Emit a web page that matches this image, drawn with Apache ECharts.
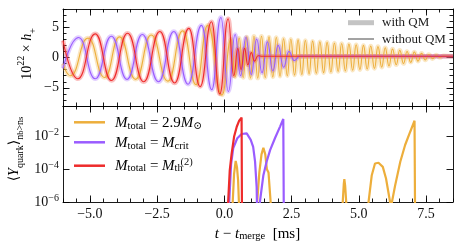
<!DOCTYPE html>
<html><head><meta charset="utf-8">
<script src="https://cdn.jsdelivr.net/npm/echarts@6/dist/echarts.min.js"></script>
<style>html,body{margin:0;padding:0;background:#fff}#c{width:462px;height:250px}</style>
</head><body><div id="c"></div>
<script>
// ---------- tick labels ----------
const xMajor = [-5, -2.5, 0, 2.5, 5, 7.5];
const hMajor = [-5, 0, 5];

// ---------- top panel: 10^22 x h+ (extrema) ----------
const tOrange = [-6.0,-5.72,-5.07,-4.45,-3.9,-3.3,-2.72,-2.1,-1.55,-1.05,-0.62,-0.09,0.25,0.40,0.55,0.70,0.83,0.97,1.10,1.24,1.38,1.52,1.66,1.80,1.93,2.07,2.20,2.34,2.47,2.61,2.74,2.88,3.01,3.15,3.28,3.42,3.55,3.69,3.82,3.96,4.09,4.23,4.36,4.50,4.63,4.77,4.90,5.04,5.17,5.31,5.44,5.58,5.71,5.85,5.98,6.12,6.25,6.39,6.52,6.66,6.79,6.93,7.06,7.20,7.33,7.47,7.60,7.74,7.87,8.01,8.14,8.5];
const hOrange = [-1.0,-3.0,3.2,-3.3,3.4,-3.6,3.7,-3.9,4.4,-4.5,5.3,-6.2,3.0,-3.2,3.2,-3.3,3.4,-3.4,3.5,-3.4,3.5,-3.3,3.4,-3.2,3.3,-3.1,3.1,-3.0,3.0,-2.9,2.9,-2.8,2.8,-2.7,2.7,-2.6,2.6,-2.5,2.5,-2.4,2.4,-2.3,2.3,-2.2,2.2,-2.1,2.1,-2.0,2.0,-1.9,1.9,-1.8,1.8,-1.6,1.6,-1.4,1.4,-1.2,1.2,-1.0,1.0,-0.8,0.9,-0.6,0.7,-0.4,0.5,-0.2,0.4,0.0,0.3,0.2];
const tPurple = [-6.0,-5.42,-4.8,-4.2,-3.62,-3.05,-2.45,-1.88,-1.35,-0.85,-0.47,-0.13,0.15,0.40,0.60,0.80,1.00,1.20,1.40,1.60,1.80,2.00,2.20,2.40,2.60,2.80,8.5];
const hPurple = [-1.8,3.3,-3.5,3.5,-3.6,3.8,-4.0,4.3,-4.4,5.3,-5.3,6.6,-5.6,3.8,-3.0,3.3,-2.8,3.0,-2.5,2.6,-2.2,2.0,-1.6,1.0,-0.5,0.2,0.2];
const tRed = [-6.0,-5.45,-4.8,-4.2,-3.6,-3.0,-2.4,-1.85,-1.32,-0.9,-0.48,-0.17,0.14,0.35,0.50,0.62,0.75,0.87,1.00,1.12,1.25,1.40,8.5];
const hRed = [2.8,-3.5,3.9,-3.8,4.0,-4.0,4.3,-4.2,4.8,-4.8,5.9,-6.0,6.4,-3.0,1.5,-2.0,1.5,-1.2,0.8,-0.6,0.3,0.2,0.2];

// ---------- bottom panel: <Y_quark> (null = gap) ----------
const tYOrange = [0.28,0.31,0.36,0.42,0.47,0.51,0.54,0.56,null,1.18,1.22,1.30,1.38,1.45,1.52,1.58,1.64,1.72,1.75,null,4.38,4.40,4.44,4.46,4.49,4.53,4.55,null,5.30,5.36,5.48,5.60,5.73,5.89,6.01,6.16,6.19,null,6.20,6.23,6.35,6.54,6.72,6.91,7.07,7.09];
const yOrange = [1e-7,1e-6,5e-5,3.2e-4,1.26e-4,2.1e-5,1e-6,1e-7,null,1e-7,1e-6,6.3e-5,7.9e-4,2.0e-3,7.9e-4,1e-4,6.3e-5,1e-6,1e-7,null,1e-7,1e-6,1.26e-5,2.45e-5,1e-5,1e-6,1e-7,null,1e-7,1e-6,4.3e-5,2.2e-4,2.45e-4,1.38e-4,2.7e-5,1e-6,1e-7,null,1e-7,1e-6,1.05e-5,2.8e-4,2.95e-3,1.9e-2,8.9e-2,1e-7];
const tYPurple = [0.15,0.18,0.25,0.33,0.48,0.64,0.83,0.98,1.07,1.14,1.20,1.22,null,1.29,1.32,1.45,1.57,1.70,1.88,2.07,2.19,2.21];
const yPurple = [1e-7,1e-6,2.0e-4,1.9e-3,7.6e-3,1.38e-2,1.5e-2,6e-3,2.3e-3,3e-4,8e-6,1e-7,null,1e-7,1e-6,4.3e-5,2.8e-4,1.45e-3,7.6e-3,3.9e-2,1.15e-1,1e-7];
const tYRed = [0.12,0.14,0.20,0.27,0.36,0.46,0.55,0.64,0.655];
const yRed = [1e-7,1e-6,8.5e-5,8.9e-4,9.3e-3,3.8e-2,8.9e-2,1.38e-1,1e-7];

const C_OR = '#EDAE3B', C_PU = '#9A5CFF', C_RE = '#EE2B2B';
const SERIF = '"Liberation Serif", "DejaVu Serif", serif';

function pairs(t, v) { return t.map((x, i) => (x === null ? ['-', '-'] : [x, v[i]])); }

const chart = echarts.init(document.getElementById('c'), null, {renderer: 'canvas'});
const blk = {color: '#000', width: 0.9};

function xAxes(g, withLabels) {
  const base = {type: 'value', gridIndex: g, min: -6, max: 8.5, splitLine: {show: false}};
  return [
    Object.assign({}, base, {position: 'bottom', interval: 0.5, axisLine: {show: true, onZero: false, lineStyle: blk}, axisTick: {inside: true, length: 3.5, lineStyle: blk}, axisLabel: {show: false}}),
    Object.assign({}, base, {position: 'bottom', axisLine: {show: false, onZero: false}, axisTick: {inside: true, length: 6.5, customValues: xMajor, lineStyle: blk},
      axisLabel: withLabels ? {show: true, customValues: xMajor, margin: 5, color: '#111', fontFamily: SERIF, fontSize: 14,
        formatter: v => (v < 0 ? '\u2212' + (-v).toFixed(1) : v.toFixed(1))} : {show: false}}),
    Object.assign({}, base, {position: 'top', interval: 0.5, axisLine: {show: true, onZero: false, lineStyle: blk}, axisTick: {inside: true, length: 3.5, lineStyle: blk}, axisLabel: {show: false}}),
    Object.assign({}, base, {position: 'top', axisLine: {show: false, onZero: false}, axisTick: {inside: true, length: 6.5, customValues: xMajor, lineStyle: blk}, axisLabel: {show: false}})
  ];
}
const hBase = {type: 'value', gridIndex: 0, min: -8, max: 8, splitLine: {show: false}};
const yAxes = [
  Object.assign({}, hBase, {position: 'left', interval: 1, axisLine: {show: true, onZero: false, lineStyle: blk}, axisTick: {inside: true, length: 3.5, lineStyle: blk}, axisLabel: {show: false}}),
  Object.assign({}, hBase, {position: 'left', axisLine: {show: false, onZero: false}, axisTick: {inside: true, length: 6.5, customValues: hMajor, lineStyle: blk},
    axisLabel: {show: true, customValues: hMajor, margin: 4, color: '#111', fontFamily: SERIF, fontSize: 14, formatter: v => (v < 0 ? '\u2212' + (-v) : '' + v)}}),
  Object.assign({}, hBase, {position: 'right', interval: 1, axisLine: {show: true, onZero: false, lineStyle: blk}, axisTick: {inside: true, length: 3.5, lineStyle: blk}, axisLabel: {show: false}}),
  Object.assign({}, hBase, {position: 'right', axisLine: {show: false, onZero: false}, axisTick: {inside: true, length: 6.5, customValues: hMajor, lineStyle: blk}, axisLabel: {show: false}}),
  {type: 'log', gridIndex: 1, position: 'left', min: 1e-6, max: 0.7, interval: 2, splitLine: {show: false},
    axisLine: {show: true, onZero: false, lineStyle: blk}, axisTick: {inside: true, length: 6.5, lineStyle: blk},
    axisLabel: {show: true, margin: 4, showMaxLabel: false, color: '#111',
      formatter: v => { const e = Math.log10(v); const r = Math.round(e); if (Math.abs(e - r) > 1e-6) return ''; return '{b|10}{s|' + (r < 0 ? '\u2212' : '') + Math.abs(r) + '}'; },
      rich: {b: {fontFamily: SERIF, fontSize: 14, lineHeight: 18, color: '#111'}, s: {fontFamily: SERIF, fontSize: 10, lineHeight: 9, verticalAlign: 'top', color: '#111'}}}},
  {type: 'log', gridIndex: 1, position: 'right', min: 1e-6, max: 0.7, interval: 2, splitLine: {show: false},
    axisLine: {show: true, onZero: false, lineStyle: blk}, axisTick: {inside: true, length: 6.5, lineStyle: blk}, axisLabel: {show: false}}
];

function wave(t, h, color, thick) {
  return {type: 'line', xAxisIndex: 0, yAxisIndex: 0, data: pairs(t, h), showSymbol: false, symbol: 'none', smooth: 0.5, smoothMonotone: 'x',
    lineStyle: thick ? {color: color, width: 4.5, opacity: 0.3} : {color: color, width: 1.1}, silent: true, z: thick ? 2 : 3};
}
function quark(t, y, color) {
  return {type: 'line', xAxisIndex: 4, yAxisIndex: 4, data: pairs(t, y), showSymbol: false, symbol: 'none', connectNulls: false,
    lineStyle: {color: color, width: 2.2}, silent: true};
}

const mathRich = {
  i: {fontFamily: SERIF, fontStyle: 'italic', fontSize: 15, lineHeight: 16, color: '#111'},
  r: {fontFamily: SERIF, fontSize: 15, lineHeight: 16, color: '#111'},
  sub: {fontFamily: SERIF, fontSize: 10.5, lineHeight: 8, verticalAlign: 'bottom', color: '#111'},
  sup: {fontFamily: SERIF, fontSize: 10.5, lineHeight: 8, verticalAlign: 'top', color: '#111'}
};
const ylabRich = {
  i: {fontFamily: SERIF, fontStyle: 'italic', fontSize: 14, lineHeight: 22, color: '#111'},
  r: {fontFamily: SERIF, fontSize: 14, lineHeight: 22, color: '#111'},
  sub: {fontFamily: SERIF, fontSize: 10, lineHeight: 14, verticalAlign: 'bottom', color: '#111'},
  ssub: {fontFamily: SERIF, fontSize: 8.5, lineHeight: 8, verticalAlign: 'bottom', color: '#111'},
  sup: {fontFamily: SERIF, fontSize: 10, lineHeight: 12, verticalAlign: 'top', color: '#111'}
};

const option = {
  animation: false,
  backgroundColor: '#fff',
  grid: [
    {left: 63, top: 9, width: 390, height: 97, containLabel: false},
    {left: 63, top: 106, width: 390, height: 96, containLabel: false}
  ],
  xAxis: xAxes(0, false).concat(xAxes(1, true)),
  yAxis: yAxes,
  series: [
    wave(tOrange, hOrange, C_OR, true), wave(tPurple, hPurple, C_PU, true), wave(tRed, hRed, C_RE, true),
    wave(tOrange, hOrange, C_OR, false), wave(tPurple, hPurple, C_PU, false), wave(tRed, hRed, C_RE, false),
    quark(tYOrange, yOrange, C_OR), quark(tYPurple, yPurple, C_PU), quark(tYRed, yRed, C_RE)
  ],
  graphic: [
    // top legend
    {type: 'line', shape: {x1: 348, y1: 22.7, x2: 374, y2: 22.7}, style: {stroke: '#c4c4c4', lineWidth: 5}},
    {type: 'line', shape: {x1: 348, y1: 39, x2: 374, y2: 39}, style: {stroke: '#666', lineWidth: 1.2}},
    {type: 'text', x: 382, y: 23, style: {text: 'with QM', font: '13px ' + SERIF, fill: '#222', align: 'left', verticalAlign: 'middle'}},
    {type: 'text', x: 382, y: 39.5, style: {text: 'without QM', font: '13px ' + SERIF, fill: '#222', align: 'left', verticalAlign: 'middle'}},
    // bottom legend
    {type: 'line', shape: {x1: 74, y1: 122.3, x2: 105, y2: 122.3}, style: {stroke: C_OR, lineWidth: 2.5}},
    {type: 'line', shape: {x1: 74, y1: 142.3, x2: 105, y2: 142.3}, style: {stroke: C_PU, lineWidth: 2.5}},
    {type: 'line', shape: {x1: 74, y1: 165.7, x2: 105, y2: 165.7}, style: {stroke: C_RE, lineWidth: 2.5}},
    {type: 'text', x: 115, y: 123.5, style: {text: '{i|M}{sub|total}{r| = 2.9}{i|M}{sub|\u2299}', rich: mathRich, align: 'left', verticalAlign: 'middle'}},
    {type: 'text', x: 115, y: 143.5, style: {text: '{i|M}{sub|total}{r| = }{i|M}{sub|crit}', rich: mathRich, align: 'left', verticalAlign: 'middle'}},
    {type: 'text', x: 115, y: 166, style: {text: '{i|M}{sub|total}{r| = }{i|M}{sub|th}', rich: mathRich, align: 'left', verticalAlign: 'middle'}},
    {type: 'text', x: 180.5, y: 162, style: {text: '(2)', font: '10.5px ' + SERIF, fill: '#111', align: 'left', verticalAlign: 'middle'}},
    // axis titles
    {type: 'text', x: 257.5, y: 234, style: {text: '{i|t}{r| \u2212 }{i|t}{sub|merge}{r|  [ms]}', rich: mathRich, align: 'center', verticalAlign: 'middle'}},
    {type: 'text', x: 27, y: 54, rotation: Math.PI / 2, style: {text: '{r|10}{sup|22}{r| \u00d7 }{i|h}{sub|+}', rich: ylabRich, align: 'center', verticalAlign: 'middle'}},
    {type: 'text', x: 14, y: 149, rotation: Math.PI / 2, style: {text: '{r|\u27e8}{i|Y}{sub|quark}{r|\u27e9}{sub|n}{ssub|b}{sub|>n}{ssub|s}', rich: ylabRich, align: 'center', verticalAlign: 'middle'}}
  ]
};
chart.setOption(option);
</script></body></html>
